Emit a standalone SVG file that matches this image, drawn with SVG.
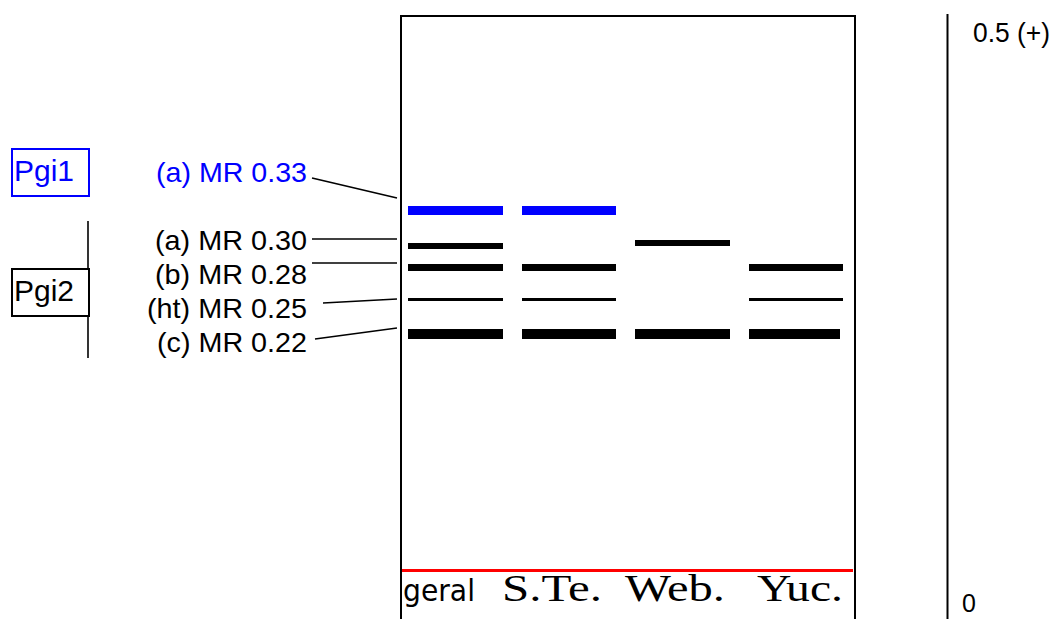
<svg xmlns="http://www.w3.org/2000/svg" width="1054" height="619" viewBox="0 0 1054 619">
  <style>
    .lbl { font-family: "Liberation Sans", Arial, sans-serif; font-size: 28px; fill: #000; }
    .blue { fill: #0000ff; }
    .tag { font-family: "Liberation Sans", Arial, sans-serif; font-size: 30px; }
    .lane { font-family: "Liberation Serif", "Times New Roman", serif; font-size: 38px; fill: #000; }
    .leader { stroke: #000; stroke-width: 1.6; fill: none; }
    .band { fill: #000; }
    .bandB { fill: #0000ff; }
  </style>

  <!-- gel frame -->
  <g id="gel">
    <path d="M401,620 V16 H855 V620" fill="none" stroke="#000" stroke-width="2"/>
    <line x1="402" y1="570.5" x2="853" y2="570.5" stroke="#ff0000" stroke-width="3"/>
  </g>

  <!-- lanes -->
  <g id="lane-geral">
    <rect class="bandB" x="408" y="206" width="95" height="9"/>
    <rect class="band" x="408" y="243" width="95" height="6"/>
    <rect class="band" x="408" y="264" width="95" height="7"/>
    <rect class="band" x="408" y="298" width="95" height="3"/>
    <rect class="band" x="408" y="329" width="95" height="10"/>
    <text x="403" y="601" style="font-family:'DejaVu Sans',sans-serif;font-size:31px" textLength="72" lengthAdjust="spacingAndGlyphs">geral</text>
  </g>
  <g id="lane-ste">
    <rect class="bandB" x="522" y="206" width="94" height="9"/>
    <rect class="band" x="522" y="264" width="94" height="7"/>
    <rect class="band" x="522" y="298" width="94" height="3"/>
    <rect class="band" x="522" y="329" width="94" height="10"/>
    <text class="lane" x="502" y="601" textLength="100" lengthAdjust="spacingAndGlyphs">S.Te.</text>
  </g>
  <g id="lane-web">
    <rect class="band" x="635" y="240" width="95" height="6"/>
    <rect class="band" x="635" y="329" width="95" height="10"/>
    <text class="lane" x="625" y="601" textLength="100" lengthAdjust="spacingAndGlyphs">Web.</text>
  </g>
  <g id="lane-yuc">
    <rect class="band" x="749" y="264" width="94" height="7"/>
    <rect class="band" x="749" y="298" width="94" height="3"/>
    <rect class="band" x="749" y="329" width="91" height="10"/>
    <text class="lane" x="757" y="601" textLength="86" lengthAdjust="spacingAndGlyphs">Yuc.</text>
  </g>

  <!-- locus tags -->
  <g id="pgi1">
    <rect x="12" y="149" width="77" height="47" fill="none" stroke="#0000ff" stroke-width="2"/>
    <text class="tag" x="14" y="181" fill="#0000ff">Pgi1</text>
  </g>
  <g id="pgi2">
    <line x1="88" y1="221" x2="88" y2="358" stroke="#000" stroke-width="1.6"/>
    <rect x="12" y="269" width="77" height="47" fill="#fff" stroke="#000" stroke-width="2"/>
    <text class="tag" x="14" y="301" fill="#000">Pgi2</text>
  </g>

  <!-- band labels -->
  <g id="labels">
    <text class="lbl blue" x="156" y="182" textLength="151" lengthAdjust="spacingAndGlyphs">(a) MR 0.33</text>
    <text class="lbl" x="155" y="250" textLength="152" lengthAdjust="spacingAndGlyphs">(a) MR 0.30</text>
    <text class="lbl" x="155" y="284" textLength="152" lengthAdjust="spacingAndGlyphs">(b) MR 0.28</text>
    <text class="lbl" x="147" y="318" textLength="160" lengthAdjust="spacingAndGlyphs">(ht) MR 0.25</text>
    <text class="lbl" x="157" y="352" textLength="150" lengthAdjust="spacingAndGlyphs">(c) MR 0.22</text>
  </g>

  <!-- label leaders -->
  <g id="connectors">
    <line class="leader" x1="312" y1="178" x2="397" y2="198"/>
    <line class="leader" x1="312" y1="239" x2="397" y2="239"/>
    <line class="leader" x1="312" y1="263" x2="397" y2="263"/>
    <line class="leader" x1="323" y1="303" x2="397" y2="299"/>
    <line class="leader" x1="315" y1="339" x2="397" y2="328"/>
  </g>

  <!-- mobility scale -->
  <g id="scale">
    <line x1="947.5" y1="14" x2="947.5" y2="620" stroke="#000" stroke-width="2"/>
    <text class="lbl" x="973" y="42" style="font-size:27px" textLength="77" lengthAdjust="spacingAndGlyphs">0.5 (+)</text>
    <text class="lbl" x="962" y="612" style="font-size:25px">0</text>
  </g>
</svg>
